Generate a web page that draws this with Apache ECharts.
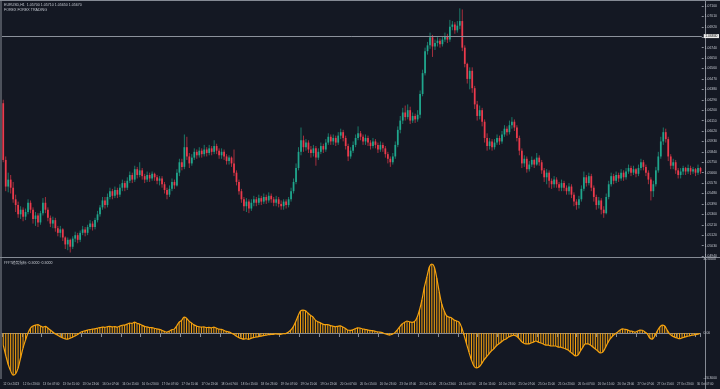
<!DOCTYPE html>
<html>
<head>
<meta charset="utf-8">
<script src="https://cdn.jsdelivr.net/npm/echarts@6/dist/echarts.min.js"></script>
<style>
html,body{margin:0;padding:0;background:#141823;}
#chart{width:720px;height:389px;}
</style>
</head>
<body>
<div id="chart"></div>
<script>
// ---- data (EURUSD H1) ----
const symbolTitle = "EURUSD,H1  1.05700 1.05710 1.05650 1.05670";
const subTitle = "FOREX FOREX TRADING";
const oscTitle = "FFFT趋势指标 -0.5000 -0.5000";
const refLine = 1.0684;

const opens = [
1.0626,1.0577,1.0554,1.0560,1.0553,1.0543,1.0538,1.0530,1.0534,1.0528,
1.0532,1.0540,1.0534,1.0526,1.0529,1.0523,1.0531,1.0540,1.0534,1.0527,
1.0522,1.0525,1.0518,1.0514,1.0517,1.0510,1.0504,1.0508,1.0502,1.0509,
1.0512,1.0508,1.0514,1.0517,1.0514,1.0519,1.0522,1.0519,1.0525,1.0530,
1.0536,1.0542,1.0538,1.0545,1.0550,1.0546,1.0551,1.0547,1.0553,1.0557,
1.0553,1.0559,1.0564,1.0560,1.0569,1.0564,1.0568,1.0563,1.0560,1.0564,
1.0561,1.0565,1.0562,1.0559,1.0561,1.0556,1.0551,1.0547,1.0552,1.0558,
1.0555,1.0566,1.0575,1.0571,1.0588,1.0580,1.0574,1.0579,1.0584,1.0581,
1.0585,1.0582,1.0586,1.0583,1.0587,1.0584,1.0589,1.0585,1.0581,1.0584,
1.0580,1.0576,1.0579,1.0574,1.0566,1.0558,1.0550,1.0543,1.0537,1.0541,
1.0535,1.0540,1.0543,1.0540,1.0544,1.0541,1.0545,1.0542,1.0546,1.0543,
1.0540,1.0543,1.0539,1.0537,1.0541,1.0538,1.0543,1.0550,1.0558,1.0570,
1.0584,1.0594,1.0588,1.0592,1.0586,1.0583,1.0587,1.0579,1.0584,1.0589,
1.0586,1.0592,1.0597,1.0593,1.0596,1.0592,1.0598,1.0601,1.0596,1.0589,
1.0580,1.0585,1.0590,1.0596,1.0600,1.0597,1.0593,1.0596,1.0592,1.0589,
1.0593,1.0590,1.0586,1.0590,1.0587,1.0582,1.0578,1.0575,1.0580,1.0590,
1.0603,1.0611,1.0618,1.0614,1.0620,1.0611,1.0615,1.0612,1.0616,1.0634,
1.0652,1.0671,1.0676,1.0683,1.0675,1.0678,1.0680,1.0677,1.0681,1.0684,
1.0681,1.0692,1.0694,1.0689,1.0693,1.0697,1.0674,1.0660,1.0647,1.0654,
1.0639,1.0625,1.0615,1.0620,1.0610,1.0596,1.0589,1.0593,1.0588,1.0592,
1.0596,1.0593,1.0599,1.0604,1.0601,1.0607,1.0610,1.0605,1.0596,1.0585,
1.0574,1.0578,1.0569,1.0573,1.0577,1.0573,1.0579,1.0575,1.0568,1.0562,
1.0566,1.0559,1.0556,1.0560,1.0556,1.0553,1.0557,1.0553,1.0550,1.0554,
1.0547,1.0541,1.0538,1.0543,1.0552,1.0562,1.0557,1.0563,1.0553,1.0545,
1.0538,1.0542,1.0534,1.0531,1.0545,1.0556,1.0563,1.0559,1.0564,1.0561,
1.0566,1.0562,1.0567,1.0570,1.0566,1.0569,1.0565,1.0570,1.0575,1.0571,
1.0566,1.0560,1.0550,1.0556,1.0568,1.0580,1.0593,1.0601,1.0595,1.0580,
1.0572,1.0575,1.0568,1.0564,1.0567,1.0570,1.0567,1.0570,1.0567,1.0569,
1.0566,1.0570];

const closes = [
1.0577,1.0554,1.0560,1.0553,1.0543,1.0538,1.0530,1.0534,1.0528,1.0532,
1.0540,1.0534,1.0526,1.0529,1.0523,1.0531,1.0540,1.0534,1.0527,1.0522,
1.0525,1.0518,1.0514,1.0517,1.0510,1.0504,1.0508,1.0502,1.0509,1.0512,
1.0508,1.0514,1.0517,1.0514,1.0519,1.0522,1.0519,1.0525,1.0530,1.0536,
1.0542,1.0538,1.0545,1.0550,1.0546,1.0551,1.0547,1.0553,1.0557,1.0553,
1.0559,1.0564,1.0560,1.0569,1.0564,1.0568,1.0563,1.0560,1.0564,1.0561,
1.0565,1.0562,1.0559,1.0561,1.0556,1.0551,1.0547,1.0552,1.0558,1.0555,
1.0566,1.0575,1.0571,1.0588,1.0580,1.0574,1.0579,1.0584,1.0581,1.0585,
1.0582,1.0586,1.0583,1.0587,1.0584,1.0589,1.0585,1.0581,1.0584,1.0580,
1.0576,1.0579,1.0574,1.0566,1.0558,1.0550,1.0543,1.0537,1.0541,1.0535,
1.0540,1.0543,1.0540,1.0544,1.0541,1.0545,1.0542,1.0546,1.0543,1.0540,
1.0543,1.0539,1.0537,1.0541,1.0538,1.0543,1.0550,1.0558,1.0570,1.0584,
1.0594,1.0588,1.0592,1.0586,1.0583,1.0587,1.0579,1.0584,1.0589,1.0586,
1.0592,1.0597,1.0593,1.0596,1.0592,1.0598,1.0601,1.0596,1.0589,1.0580,
1.0585,1.0590,1.0596,1.0600,1.0597,1.0593,1.0596,1.0592,1.0589,1.0593,
1.0590,1.0586,1.0590,1.0587,1.0582,1.0578,1.0575,1.0580,1.0590,1.0603,
1.0611,1.0618,1.0614,1.0620,1.0611,1.0615,1.0612,1.0616,1.0634,1.0652,
1.0671,1.0676,1.0683,1.0675,1.0678,1.0680,1.0677,1.0681,1.0684,1.0681,
1.0692,1.0694,1.0689,1.0693,1.0697,1.0674,1.0660,1.0647,1.0654,1.0639,
1.0625,1.0615,1.0620,1.0610,1.0596,1.0589,1.0593,1.0588,1.0592,1.0596,
1.0593,1.0599,1.0604,1.0601,1.0607,1.0610,1.0605,1.0596,1.0585,1.0574,
1.0578,1.0569,1.0573,1.0577,1.0573,1.0579,1.0575,1.0568,1.0562,1.0566,
1.0559,1.0556,1.0560,1.0556,1.0553,1.0557,1.0553,1.0550,1.0554,1.0547,
1.0541,1.0538,1.0543,1.0552,1.0562,1.0557,1.0563,1.0553,1.0545,1.0538,
1.0542,1.0534,1.0531,1.0545,1.0556,1.0563,1.0559,1.0564,1.0561,1.0566,
1.0562,1.0567,1.0570,1.0566,1.0569,1.0565,1.0570,1.0575,1.0571,1.0566,
1.0560,1.0550,1.0556,1.0568,1.0580,1.0593,1.0601,1.0595,1.0580,1.0572,
1.0575,1.0568,1.0564,1.0567,1.0570,1.0567,1.0570,1.0567,1.0569,1.0566,
1.0570,1.0567];

const lows = [
1.0575,1.0550,1.0549,1.0548,1.0540,1.0532,1.0527,1.0526,1.0524,1.0525,
1.0530,1.0531,1.0522,1.0520,1.0519,1.0521,1.0529,1.0531,1.0524,1.0519,
1.0518,1.0515,1.0511,1.0510,1.0507,1.0500,1.0499,1.0497,1.0500,1.0506,
1.0505,1.0506,1.0512,1.0511,1.0512,1.0517,1.0516,1.0517,1.0523,1.0528,
1.0534,1.0535,1.0536,1.0543,1.0543,1.0544,1.0544,1.0545,1.0550,1.0550,
1.0551,1.0557,1.0557,1.0558,1.0561,1.0562,1.0560,1.0557,1.0558,1.0558,
1.0559,1.0559,1.0556,1.0555,1.0553,1.0548,1.0543,1.0545,1.0550,1.0552,
1.0554,1.0563,1.0568,1.0569,1.0577,1.0570,1.0572,1.0577,1.0578,1.0579,
1.0579,1.0580,1.0580,1.0581,1.0581,1.0582,1.0582,1.0578,1.0578,1.0577,
1.0573,1.0573,1.0571,1.0563,1.0555,1.0547,1.0540,1.0533,1.0532,1.0531,
1.0533,1.0537,1.0537,1.0538,1.0538,1.0539,1.0539,1.0540,1.0540,1.0537,
1.0537,1.0536,1.0534,1.0534,1.0535,1.0536,1.0541,1.0548,1.0556,1.0568,
1.0581,1.0584,1.0585,1.0583,1.0579,1.0580,1.0572,1.0577,1.0582,1.0583,
1.0584,1.0590,1.0590,1.0590,1.0589,1.0590,1.0595,1.0593,1.0586,1.0576,
1.0578,1.0583,1.0588,1.0594,1.0594,1.0590,1.0590,1.0589,1.0586,1.0587,
1.0587,1.0583,1.0584,1.0584,1.0579,1.0574,1.0571,1.0573,1.0578,1.0588,
1.0600,1.0608,1.0611,1.0612,1.0608,1.0609,1.0609,1.0610,1.0613,1.0632,
1.0650,1.0668,1.0673,1.0666,1.0672,1.0675,1.0674,1.0675,1.0679,1.0678,
1.0679,1.0689,1.0686,1.0687,1.0690,1.0671,1.0657,1.0643,1.0638,1.0635,
1.0621,1.0611,1.0612,1.0606,1.0592,1.0585,1.0586,1.0585,1.0586,1.0590,
1.0590,1.0591,1.0597,1.0598,1.0599,1.0604,1.0602,1.0593,1.0581,1.0570,
1.0571,1.0566,1.0567,1.0571,1.0570,1.0572,1.0572,1.0565,1.0558,1.0556,
1.0553,1.0552,1.0553,1.0553,1.0550,1.0550,1.0550,1.0547,1.0547,1.0544,
1.0537,1.0534,1.0535,1.0541,1.0550,1.0554,1.0555,1.0550,1.0541,1.0534,
1.0535,1.0530,1.0527,1.0530,1.0543,1.0554,1.0556,1.0557,1.0558,1.0559,
1.0559,1.0560,1.0565,1.0563,1.0564,1.0562,1.0563,1.0568,1.0568,1.0563,
1.0556,1.0542,1.0545,1.0554,1.0566,1.0578,1.0590,1.0592,1.0576,1.0569,
1.0569,1.0565,1.0561,1.0561,1.0564,1.0564,1.0565,1.0564,1.0565,1.0563,
1.0564,1.0565];

const highs = [
1.0629,1.0580,1.0566,1.0564,1.0558,1.0547,1.0541,1.0537,1.0536,1.0535,
1.0543,1.0542,1.0536,1.0532,1.0531,1.0533,1.0544,1.0545,1.0536,1.0529,
1.0528,1.0527,1.0520,1.0520,1.0518,1.0511,1.0510,1.0509,1.0511,1.0515,
1.0514,1.0516,1.0520,1.0519,1.0521,1.0525,1.0524,1.0527,1.0533,1.0538,
1.0545,1.0545,1.0548,1.0553,1.0552,1.0554,1.0553,1.0556,1.0560,1.0559,
1.0562,1.0567,1.0566,1.0572,1.0571,1.0575,1.0570,1.0565,1.0567,1.0566,
1.0567,1.0566,1.0564,1.0563,1.0563,1.0558,1.0553,1.0555,1.0561,1.0560,
1.0569,1.0578,1.0578,1.0599,1.0597,1.0583,1.0582,1.0587,1.0586,1.0588,
1.0587,1.0590,1.0588,1.0590,1.0589,1.0594,1.0591,1.0587,1.0587,1.0586,
1.0582,1.0581,1.0580,1.0586,1.0568,1.0560,1.0552,1.0545,1.0544,1.0543,
1.0543,1.0546,1.0545,1.0547,1.0546,1.0548,1.0547,1.0549,1.0548,1.0545,
1.0546,1.0545,1.0542,1.0543,1.0543,1.0545,1.0553,1.0561,1.0574,1.0588,
1.0605,1.0598,1.0595,1.0594,1.0589,1.0590,1.0589,1.0587,1.0592,1.0591,
1.0595,1.0600,1.0599,1.0599,1.0598,1.0601,1.0604,1.0603,1.0598,1.0591,
1.0588,1.0593,1.0599,1.0606,1.0602,1.0599,1.0599,1.0598,1.0594,1.0596,
1.0595,1.0592,1.0593,1.0592,1.0589,1.0584,1.0580,1.0583,1.0593,1.0606,
1.0615,1.0622,1.0624,1.0625,1.0623,1.0618,1.0617,1.0620,1.0637,1.0655,
1.0674,1.0679,1.0687,1.0685,1.0681,1.0683,1.0682,1.0684,1.0687,1.0686,
1.0698,1.0697,1.0696,1.0697,1.0708,1.0707,1.0676,1.0661,1.0657,1.0657,
1.0641,1.0628,1.0624,1.0622,1.0612,1.0600,1.0596,1.0595,1.0595,1.0599,
1.0598,1.0602,1.0607,1.0606,1.0611,1.0614,1.0612,1.0607,1.0598,1.0587,
1.0581,1.0580,1.0576,1.0580,1.0578,1.0583,1.0581,1.0577,1.0570,1.0569,
1.0568,1.0561,1.0563,1.0562,1.0558,1.0560,1.0559,1.0555,1.0557,1.0556,
1.0549,1.0543,1.0546,1.0555,1.0567,1.0564,1.0566,1.0565,1.0555,1.0547,
1.0545,1.0544,1.0537,1.0548,1.0559,1.0566,1.0565,1.0567,1.0566,1.0569,
1.0568,1.0570,1.0573,1.0572,1.0572,1.0570,1.0573,1.0578,1.0577,1.0573,
1.0568,1.0562,1.0559,1.0571,1.0584,1.0597,1.0605,1.0604,1.0597,1.0582,
1.0578,1.0577,1.0570,1.0570,1.0572,1.0571,1.0573,1.0572,1.0571,1.0570,
1.0573,1.0571];

const osc = [
-6.5,-12,-17,-20.5,-22.7,-22,-19,-13.5,-8,-3.8,
0,2.7,3.8,4.3,4.5,3.8,3.2,3.6,2.7,1.6,
0.6,-0.5,-1.2,-2,-2.7,-3.2,-3.3,-2.8,-2.2,-1.6,
-0.8,0.2,0.8,1.2,1.6,1.9,2.1,2.3,2.6,2.9,
3.2,3.1,3.4,3.6,3.3,3.5,3.2,3.7,4.2,4.3,
4.8,5.4,5.2,5.9,5.3,4.9,4.2,3.6,3.3,3.0,
2.9,2.6,2.2,2.0,1.5,0.9,0.5,1.0,1.8,2.1,
3.8,5.9,6.8,8.6,8.0,6.4,5.4,4.4,3.8,3.4,
3.2,3.3,2.9,3.1,2.8,3.2,2.7,2.1,2.0,1.5,
0.9,0.6,0,-0.7,-1.6,-2.4,-2.9,-3.3,-3.1,-3.4,
-2.9,-2.5,-2.2,-1.9,-1.7,-1.4,-1.2,-0.9,-0.8,-0.7,
-0.5,-0.6,-0.7,-0.4,-0.3,0.4,1.5,3.2,5.9,9.2,
11.9,12.4,12.0,10.8,9.6,8.7,7.0,6.1,5.5,4.8,
4.5,4.6,4.0,3.8,3.4,3.6,3.9,3.3,2.6,1.6,
1.4,1.7,2.3,2.8,2.7,2.2,2.0,1.7,1.4,1.3,
1.0,0.6,0.5,0.2,-0.4,-0.8,-1.1,-0.7,0.1,1.6,
3.3,4.9,5.8,6.5,6.0,5.8,6.2,8.2,12.4,17.8,
24.9,30.3,35.7,37.3,35.7,29.7,22.2,15.7,11.9,9.2,
8.6,8.1,7.0,6.5,5.9,3.2,-1.1,-5.9,-10.3,-14.6,
-17.8,-18.9,-18.4,-16.8,-14.6,-13.0,-11.4,-9.7,-8.6,-7.0,
-5.9,-4.9,-3.8,-3.2,-2.2,-1.6,-1.1,-1.6,-2.7,-4.3,
-5.4,-5.9,-5.9,-5.4,-4.9,-4.3,-4.9,-5.4,-5.9,-6.5,
-6.5,-7.0,-7.0,-7.0,-7.6,-7.6,-8.1,-8.6,-9.2,-10.3,
-11.4,-12.4,-11.9,-9.7,-7.6,-5.9,-5.9,-6.5,-7.6,-8.6,
-9.7,-10.8,-10.3,-8.1,-5.4,-3.2,-1.6,-0.5,0.5,1.6,
2.2,2.0,1.7,1.1,0.9,0.5,1.0,1.6,1.5,0.6,
-0.5,-2.7,-3.3,-1.6,1.1,3.2,4.3,3.8,1.6,-0.5,
-1.6,-2.2,-2.7,-3.1,-2.6,-2.2,-1.8,-1.5,-1.2,-1.0,
-0.7,-0.5];

const tickLabels = ["12 Oct 2023","12 Oct 23:00","13 Oct 07:00","13 Oct 15:00","13 Oct 23:00",
"16 Oct 07:00","16 Oct 15:00","16 Oct 23:00","17 Oct 07:00","17 Oct 15:00","17 Oct 23:00",
"18 Oct 07:00","18 Oct 15:00","18 Oct 23:00","19 Oct 07:00","19 Oct 15:00","19 Oct 23:00",
"20 Oct 07:00","20 Oct 15:00","20 Oct 23:00","23 Oct 07:00","23 Oct 15:00","23 Oct 23:00",
"24 Oct 07:00","24 Oct 15:00","24 Oct 23:00","25 Oct 07:00","25 Oct 15:00","25 Oct 23:00",
"26 Oct 07:00","26 Oct 15:00","26 Oct 23:00","27 Oct 07:00","27 Oct 15:00","27 Oct 23:00",
"30 Oct 07:00"];
const labelEvery = 8;

const priceMin = 1.0494, priceStep = 0.0009, priceMax = 1.0710;
const oscMin = -24.3, oscMax = 40;

// ---- chart ----
const BG = '#141823', FRAME = '#858a94', TXT = '#c4c8d0';
const UP = '#20a68d', DN = '#eb3a4c', UPW = '#1b7868', DNW = '#a42f3d', ORANGE = '#f5a20f';
const FONT = 'Liberation Sans, Arial, sans-serif';

const cats = closes.map((_, i) => i);
const candleData = closes.map((c, i) => [i, opens[i], c, lows[i], highs[i]]);

function renderCandle(params, api) {
  const i = api.value(0), o = api.value(1), c = api.value(2), l = api.value(3), h = api.value(4);
  const pH = api.coord([i, h]), pL = api.coord([i, l]);
  const pO = api.coord([i, o]), pC = api.coord([i, c]);
  const w = Math.max(1, api.size([1, 0])[0] * 0.7);
  const up = c >= o;
  const top = Math.min(pO[1], pC[1]);
  const hgt = Math.max(1, Math.abs(pO[1] - pC[1]));
  return {
    type: 'group',
    children: [
      { type: 'line', shape: { x1: pH[0], y1: pH[1], x2: pL[0], y2: pL[1] },
        style: { stroke: up ? UPW : DNW, lineWidth: 1 } },
      { type: 'rect', shape: { x: pO[0] - w / 2, y: top, width: w, height: hgt },
        style: { fill: up ? UP : DN } }
    ]
  };
}

const chart = echarts.init(document.getElementById('chart'), null, { renderer: 'canvas' });
chart.setOption({
  animation: false,
  backgroundColor: BG,
  textStyle: { fontFamily: FONT },
  grid: [
    { left: 2, top: 6, width: 703, height: 250 },
    { left: 2, top: 259, width: 703, height: 119 }
  ],
  xAxis: [
    { type: 'category', gridIndex: 0, data: cats, boundaryGap: true,
      axisLine: { show: false }, axisTick: { show: false }, axisLabel: { show: false }, splitLine: { show: false } },
    { type: 'category', gridIndex: 1, data: cats, boundaryGap: true,
      axisLine: { show: true, lineStyle: { color: FRAME, width: 1 } },
      axisTick: { show: true, interval: labelEvery - 1, length: 4, lineStyle: { color: FRAME } },
      axisLabel: { show: true, interval: labelEvery - 1, color: TXT, fontSize: 2.9, align: 'left', margin: 5,
        fontFamily: FONT,
        formatter: (v, idx) => tickLabels[Math.round(idx / labelEvery)] || '' },
      splitLine: { show: false } }
  ],
  yAxis: [
    { type: 'value', gridIndex: 0, position: 'right', min: priceMin, max: priceMax, interval: priceStep,
      axisLine: { show: false }, axisTick: { show: true, length: 2, lineStyle: { color: FRAME } },
      splitLine: { show: false },
      axisLabel: { color: TXT, fontSize: 3.4, margin: 3, fontFamily: FONT, formatter: v => v.toFixed(5) } },
    { type: 'value', gridIndex: 1, position: 'right', min: oscMin, max: oscMax,
      axisLine: { show: false }, axisTick: { show: false }, splitLine: { show: false },
      axisLabel: { color: TXT, fontSize: 3.4, margin: 3, fontFamily: FONT,
        customValues: [oscMin, 0, oscMax],
        formatter: v => (v === 0 ? '0.00' : v.toFixed(4)) } }
  ],
  series: [
    { type: 'custom', name: 'EURUSD', xAxisIndex: 0, yAxisIndex: 0, data: candleData,
      encode: { x: 0, y: [1, 2, 3, 4] }, renderItem: renderCandle, clip: true },
    { type: 'line', name: 'ref', xAxisIndex: 0, yAxisIndex: 0, data: [], silent: true,
      markLine: { silent: true, symbol: 'none', animation: false, precision: 5,
        lineStyle: { color: '#8c919b', width: 1, type: 'solid' },
        label: { position: 'end', distance: 2, formatter: refLine.toFixed(5), color: '#111', fontSize: 3.4,
          backgroundColor: '#ececec', padding: [0.5, 1.5], fontFamily: FONT },
        data: [{ yAxis: refLine }] } },
    { type: 'bar', name: 'osc-hist', xAxisIndex: 1, yAxisIndex: 1, data: osc, barWidth: 1,
      itemStyle: { color: ORANGE }, silent: true },
    { type: 'line', name: 'osc', xAxisIndex: 1, yAxisIndex: 1, data: osc, showSymbol: false, smooth: 0.3,
      lineStyle: { color: ORANGE, width: 1.2 }, silent: true }
  ],
  graphic: [
    { type: 'line', shape: { x1: 0, y1: 0.5, x2: 720, y2: 0.5 }, style: { stroke: FRAME, lineWidth: 1 }, silent: true },
    { type: 'line', shape: { x1: 1, y1: 0, x2: 1, y2: 379 }, style: { stroke: FRAME, lineWidth: 1 }, silent: true },
    { type: 'line', shape: { x1: 705.5, y1: 0, x2: 705.5, y2: 389 }, style: { stroke: FRAME, lineWidth: 1 }, silent: true },
    { type: 'line', shape: { x1: 0, y1: 257.5, x2: 720, y2: 257.5 }, style: { stroke: FRAME, lineWidth: 1 }, silent: true },
    { type: 'text', left: 4, top: 2.5, silent: true,
      style: { text: symbolTitle, fill: TXT, font: '3.6px ' + FONT } },
    { type: 'text', left: 4, top: 7.5, silent: true,
      style: { text: subTitle, fill: TXT, font: '3.6px ' + FONT } },
    { type: 'text', left: 4, top: 261, silent: true,
      style: { text: oscTitle, fill: TXT, font: '3.6px Noto Sans CJK SC, ' + FONT } }
  ]
});
</script>
</body>
</html>
